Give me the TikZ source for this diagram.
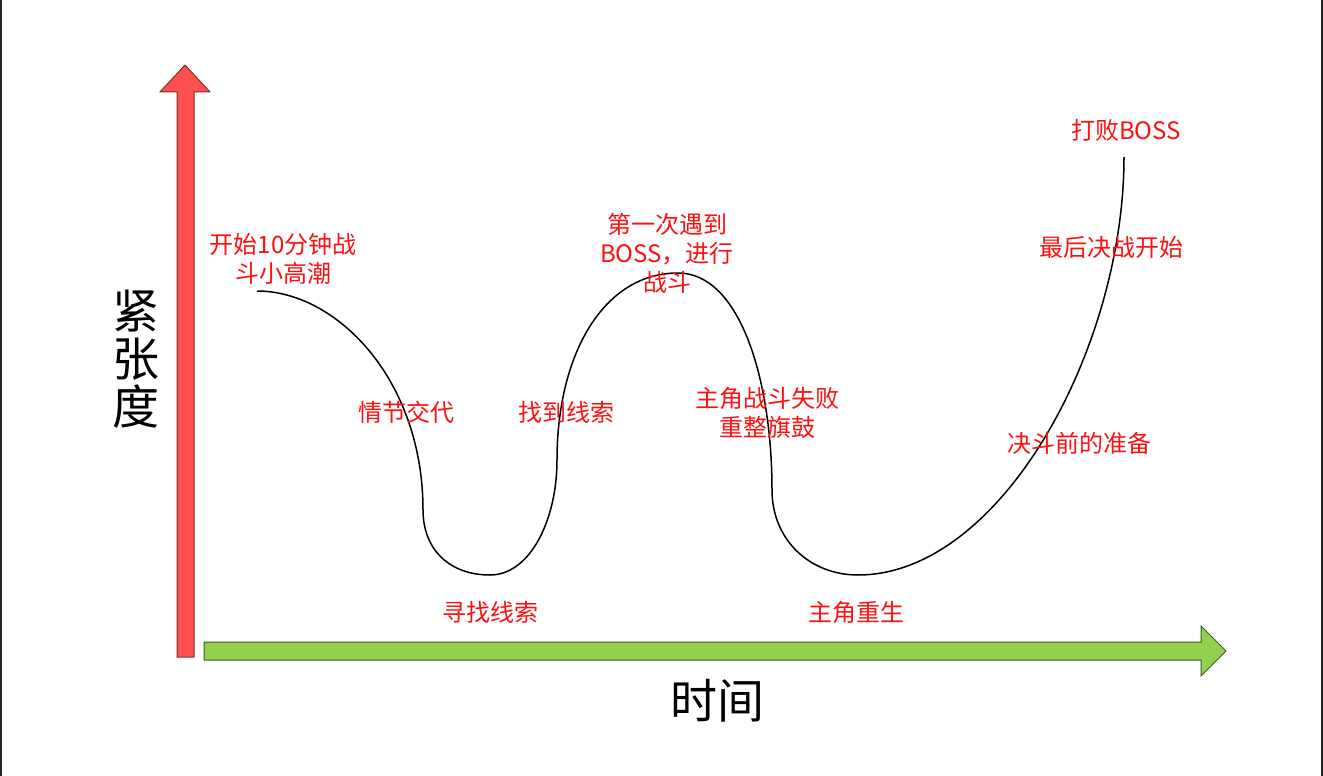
\documentclass[tikz,border=0pt]{standalone}
\usepackage{fontspec}
\newfontfamily\cjk{Noto Sans CJK SC}
\definecolor{arrowred}{HTML}{FF5050}
\definecolor{arrowredline}{HTML}{8C2A2A}
\definecolor{arrowgreen}{HTML}{92D050}
\definecolor{arrowgreenline}{HTML}{3D5E1E}
\definecolor{labelred}{HTML}{FF1010}
\begin{document}
\begin{tikzpicture}[x=1pt,y=-1pt,
  lbl/.style={text=labelred, font=\cjk\fontsize{24}{29}\selectfont, align=center, inner sep=0pt},
  axislbl/.style={text=black, font=\cjk\fontsize{47}{48}\selectfont, align=center, inner sep=0pt},
  redarrow/.style={fill=arrowred, draw=arrowredline, line width=1pt, line join=miter},
  greenarrow/.style={fill=arrowgreen, draw=arrowgreenline, line width=1pt, line join=miter},
  frameline/.style={draw=black!85, line width=2pt},
  curve/.style={draw=black, line width=1.5pt}]
\useasboundingbox (0,0) rectangle (1323,776);
% frame sides
\draw[frameline] (1,0) -- (1,776);
\draw[frameline] (1321.5,0) -- (1321.5,776);
% axes
\draw[redarrow] (177,657) -- (177,92) -- (160,92) -- (185,65) -- (210,92) -- (194,92) -- (194,657) -- cycle;
\draw[greenarrow] (204,642) -- (1201,642) -- (1201,626) -- (1226,651) -- (1201,676) -- (1201,660) -- (204,660) -- cycle;
% curve
\coordinate (p0) at (257,291);
\coordinate (p1) at (423,510);
\coordinate (p2) at (490,575);
\coordinate (p3) at (557,460);
\coordinate (p4) at (678,273);
\coordinate (p5) at (772,490);
\coordinate (p6) at (858,575);
\coordinate (p7) at (1124,157);
\draw[curve] (p0) .. controls (337,291) and (423,380) .. (p1)
  .. controls (423,550) and (450,575) .. (p2)
  .. controls (530,575) and (557,520) .. (p3)
  .. controls (557,355) and (603,273) .. (p4)
  .. controls (740,273) and (772,380) .. (p5)
  .. controls (772,540) and (810,575) .. (p6)
  .. controls (1000,575) and (1124,350) .. (p7);
% labels
\node[lbl] (l1) at (283,259) {开始10分钟战\\斗小高潮};
\node[lbl] (l2) at (406,412) {情节交代};
\node[lbl] (l3) at (566,412) {找到线索};
\node[lbl] (l4) at (667,253) {第一次遇到\\BOSS，进行\\战斗};
\node[lbl] (l5) at (767,413) {主角战斗失败\\重整旗鼓};
\node[lbl] (l6) at (490,612) {寻找线索};
\node[lbl] (l7) at (856,612) {主角重生};
\node[lbl] (l8) at (1079,443) {决斗前的准备};
\node[lbl] (l9) at (1111,247) {最后决战开始};
\node[lbl] (l10) at (1126,130) {打败BOSS};
% axis labels
\node[axislbl] (ylab) at (136,359) {紧\\张\\度};
\node[axislbl] (xlab) at (717,701) {时间};
\end{tikzpicture}
\end{document}
